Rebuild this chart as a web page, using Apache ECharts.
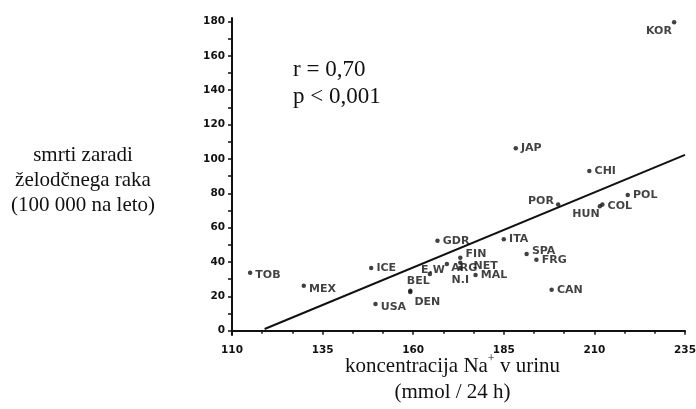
<!DOCTYPE html>
<html>
<head>
<meta charset="utf-8">
<script src="https://cdn.jsdelivr.net/npm/echarts@6/dist/echarts.min.js"></script>
<style>html,body{margin:0;padding:0;background:#fff;}#c{width:696px;height:409px;}</style>
</head>
<body>
<div id="c"></div>
<script>
const countries = ['KOR','JAP','CHI','POL','COL','HUN','POR','ITA','SPA','FRG','CAN','MAL','NET','FIN','N.I','ARG','E.W','GDR','ICE','BEL','DEN','USA','MEX','TOB'];
const sodium = [232, 188.3, 208.6, 219.2, 212.2, 211.5, 200, 185, 191.3, 194, 198.2, 177.2, 173, 173, 173, 169.3, 164.6, 166.7, 148.4, 159.2, 159.2, 149.6, 129.8, 115];
const deaths = [179.5, 106.2, 93, 79, 73.4, 72.5, 73.4, 53.2, 44.7, 41.3, 23.9, 32.4, 39.6, 42.5, 36.5, 38.8, 33, 52.4, 36.5, 23.3, 22.5, 15.5, 26.2, 33.8];
const regX = [119, 235];
const regY = [1, 102.3];
const yTickLabels = [0, 20, 40, 60, 80, 100, 120, 140, 160, 180];
const yTicks = [0, 10, 20, 30, 40, 50, 60, 70, 80, 90, 100, 110, 120, 130, 140, 150, 160, 170, 180];
const yTitleLines = ['smrti zaradi', 'želodčnega raka', '(100 000 na leto)'];
const statLines = ['r = 0,70', 'p < 0,001'];

const labelPlace = {
  'KOR': {position:'left', distance:0, offset:[0,9]},
  'HUN': {position:'left', distance:0, offset:[2,8]},
  'POR': {position:'left', distance:2, offset:[0,-3]},
  'SPA': {position:'right', offset:[0,-3]},
  'COL': {position:'right', offset:[0,2]},
  'NET': {position:'right', offset:[8,3]},
  'FIN': {position:'right', offset:[0,-4]},
  'N.I': {position:'bottom', distance:4, offset:[0,0]},
  'ARG': {position:'right', offset:[-1,4]},
  'E.W': {position:'inside', offset:[3,-4]},
  'BEL': {position:'top', distance:2, offset:[8,0]},
  'DEN': {position:'bottom', distance:2, offset:[17,0]},
  'USA': {position:'right', offset:[0,3]},
  'MEX': {position:'right', offset:[0,3]},
  'TOB': {position:'right', offset:[0,3]}
};

const pts = countries.map((c, i) => {
  const lp = labelPlace[c] || {position:'right'};
  return {
    name: c,
    value: [sodium[i], deaths[i]],
    label: Object.assign({show:true, formatter:c, distance:3}, lp)
  };
});

const tickFont = {fontFamily:'DejaVu Sans', fontWeight:'bold', fontSize:10.5, color:'#111'};

const graphics = [];
yTitleLines.forEach((t, i) => {
  graphics.push({type:'text', x:83, y:155 + i * 25, style:{text:t, font:'21px "Liberation Serif"', fill:'#111', align:'center', verticalAlign:'middle'}});
});
statLines.forEach((t, i) => {
  graphics.push({type:'text', x:293, y:70 + i * 27, style:{text:t, font:'23px "Liberation Serif"', fill:'#111', align:'left', verticalAlign:'middle'}});
});

const chart = echarts.init(document.getElementById('c'), null, {renderer:'canvas'});
chart.setOption({
  animation:false,
  backgroundColor:'#fff',
  grid:{left:232, right:11, top:18, bottom:74, outerBoundsMode:'none', containLabel:false},
  xAxis:{
    type:'value', min:110, max:235, interval:25,
    axisLine:{show:true, lineStyle:{color:'#111', width:2}},
    axisTick:{show:true, length:4, lineStyle:{color:'#111', width:1.5}},
    minorTick:{show:true, splitNumber:3, length:3, lineStyle:{color:'#111', width:1.5}},
    splitLine:{show:false},
    axisLabel:Object.assign({margin:10}, tickFont),
    name:'{a|koncentracija Na}{s|+}{a| v urinu}\n{a|(mmol / 24 h)}',
    nameLocation:'middle', nameGap:18, nameMoveOverlap:false,
    nameTextStyle:{
      padding:[0,12,0,0],
      rich:{
        a:{fontFamily:'Liberation Serif', fontSize:21, color:'#111', lineHeight:26},
        s:{fontFamily:'Liberation Serif', fontSize:12, color:'#111', verticalAlign:'top', lineHeight:26, padding:[0,0,8,0]}
      }
    }
  },
  yAxis:{
    type:'value', min:-2.5, max:182,
    axisLine:{show:true, lineStyle:{color:'#111', width:2}},
    axisTick:{show:true, length:4, customValues:yTicks, lineStyle:{color:'#111', width:1.5}},
    splitLine:{show:false},
    axisLabel:Object.assign({margin:7, customValues:yTickLabels}, tickFont)
  },
  graphic:graphics,
  series:[
    {
      type:'line', data:regX.map((x,i)=>[x, regY[i]]), symbol:'none',
      lineStyle:{color:'#111', width:2}, silent:true, z:1
    },
    {
      type:'scatter', data:pts, symbol:'circle', symbolSize:4.5,
      itemStyle:{color:'#111'},
      label:{fontFamily:'DejaVu Sans', fontWeight:'bold', fontSize:11, color:'#111'},
      z:2
    }
  ]
});
</script>
</body>
</html>
